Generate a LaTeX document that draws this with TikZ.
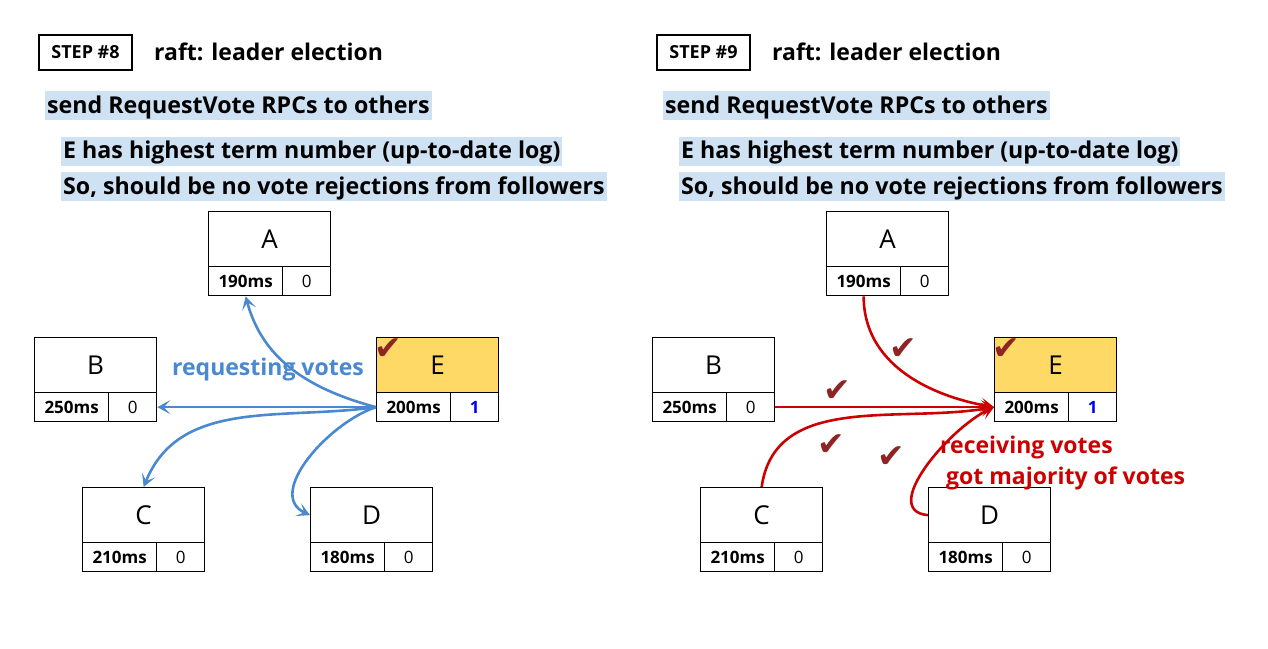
\documentclass[tikz,border=0pt]{standalone}
\usepackage{fontspec}
\setmainfont{Open Sans}
\newfontfamily\symfont{DejaVu Sans}
\usetikzlibrary{arrows.meta}
\definecolor{hl}{RGB}{207,226,243}
\definecolor{efill}{RGB}{255,217,102}
\definecolor{bluearr}{RGB}{74,137,208}
\definecolor{redarr}{RGB}{204,0,0}
\definecolor{chk}{RGB}{143,36,36}
\definecolor{termblue}{RGB}{0,0,240}
\tikzset{
  topcell/.style={draw=black, line width=1.3pt, anchor=north west, minimum width=122pt, minimum height=55pt, inner sep=0pt, font=\fontsize{26}{26}\selectfont},
  mscell/.style={draw=black, line width=1.3pt, anchor=north west, minimum width=74pt, minimum height=29pt, inner sep=0pt, font=\bfseries\fontsize{17}{17}\selectfont},
  termcell/.style={draw=black, line width=1.3pt, anchor=north west, minimum width=48pt, minimum height=29pt, inner sep=0pt, font=\fontsize{17}{17}\selectfont},
  stepbox/.style={draw=black, line width=1.2pt, minimum width=93pt, minimum height=35pt, inner sep=0pt, font=\bfseries\fontsize{18}{18}\selectfont},
  titletext/.style={anchor=west, inner sep=0pt, font=\bfseries\fontsize{23}{23}\selectfont},
  hlbox/.style={anchor=west, fill=hl, inner xsep=2pt, inner ysep=0pt, minimum height=29pt, text height=18.5pt, text depth=3.5pt, font=\bfseries\fontsize{23.2}{23.2}\selectfont},
  chkmark/.style={text=chk, inner sep=0pt, font=\symfont\fontsize{33}{33}\selectfont},
  bluearrow/.style={draw=bluearr, line width=2.6pt, -{Stealth[length=13pt,width=14pt,inset=6.5pt]}},
  redarrow/.style={draw=redarr, line width=2.6pt, -{Stealth[length=13pt,width=14pt,inset=6.5pt]}},
  lbl/.style={inner sep=0pt, font=\bfseries\fontsize{23}{23}\selectfont},
}
\newcommand{\srv}[6]{%
  \node[topcell, fill=#5] (#1) at (#2,#3) {#4};
  \node[mscell] (#1-ms) at (#2,#3+55) {#6};
}
\begin{document}
\begin{tikzpicture}[x=1pt,y=-1pt]
\useasboundingbox (0,0) rectangle (1268,648);
% ================= panel 1 =================
\node[stepbox] (st8) at (85.5,52.5) {STEP \#8};
\node[titletext] (t8) at (154,52) {raft: leader election};
\node[hlbox] (h8a) at (45,105.5) {send RequestVote RPCs to others};
\node[hlbox] (h8b) at (61,151) {E has highest term number (up-to-date log)};
\node[hlbox] (h8c) at (61,186.5) {So, should be no vote rejections from followers};

\srv{A}{208}{211}{A}{white}{190ms}
\node[termcell] (A-t) at (282,266) {0};
\srv{B}{34}{337}{B}{white}{250ms}
\node[termcell] (B-t) at (108,392) {0};
\srv{E}{376}{337}{E}{efill}{200ms}
\node[termcell] (E-t) at (450,392) {\textcolor{termblue}{\bfseries 1}};
\srv{C}{82}{487}{C}{white}{210ms}
\node[termcell] (C-t) at (156,542) {0};
\srv{D}{310}{487}{D}{white}{180ms}
\node[termcell] (D-t) at (384,542) {0};
\node[chkmark] (ck1) at (388,349) {✔};

\node[lbl, text=bluearr] (rv) at (268,370) {requesting votes};

\draw[bluearrow] (E-ms.west) to[out=165,in=-75] (A-ms.south);
\draw[bluearrow] (E-ms.west) -- (B-t.east);
\draw[bluearrow] (E-ms.west) to[out=188,in=68] (C.north);
\draw[bluearrow] (E-ms.west) to[out=198,in=155] (D.west);

% ================= panel 2 =================
\node[stepbox] (st9) at (703.5,52.5) {STEP \#9};
\node[titletext] (t9) at (772,52) {raft: leader election};
\node[hlbox] (h9a) at (663,105.5) {send RequestVote RPCs to others};
\node[hlbox] (h9b) at (679,151) {E has highest term number (up-to-date log)};
\node[hlbox] (h9c) at (679,186.5) {So, should be no vote rejections from followers};

\srv{A2}{826}{211}{A}{white}{190ms}
\node[termcell] (A2-t) at (900,266) {0};
\srv{B2}{652}{337}{B}{white}{250ms}
\node[termcell] (B2-t) at (726,392) {0};
\srv{E2}{994}{337}{E}{efill}{200ms}
\node[termcell] (E2-t) at (1068,392) {\textcolor{termblue}{\bfseries 1}};
\srv{C2}{700}{487}{C}{white}{210ms}
\node[termcell] (C2-t) at (774,542) {0};
\srv{D2}{928}{487}{D}{white}{180ms}
\node[termcell] (D2-t) at (1002,542) {0};

\draw[redarrow] (A2-ms.south) to[out=-90,in=170] (E2-ms.west);
\draw[redarrow] (B2-t.east) -- (E2-ms.west);
\draw[redarrow] (C2.north) to[out=82,in=190] (E2-ms.west);
\draw[redarrow] (D2.west) to[out=175,in=205] (E2-ms.west);

\node[chkmark] (ck2) at (1006,349) {✔};
\node[chkmark] (ck3) at (903,349) {✔};
\node[chkmark] (ck4) at (837,391) {✔};
\node[chkmark] (ck5) at (831,445) {✔};
\node[chkmark] (ck6) at (891,457) {✔};

\node[lbl, anchor=west, text=redarr] (rcv) at (940,448) {receiving votes};
\node[lbl, anchor=west, text=redarr] (maj) at (946,478) {got majority of votes};
\end{tikzpicture}
\end{document}
